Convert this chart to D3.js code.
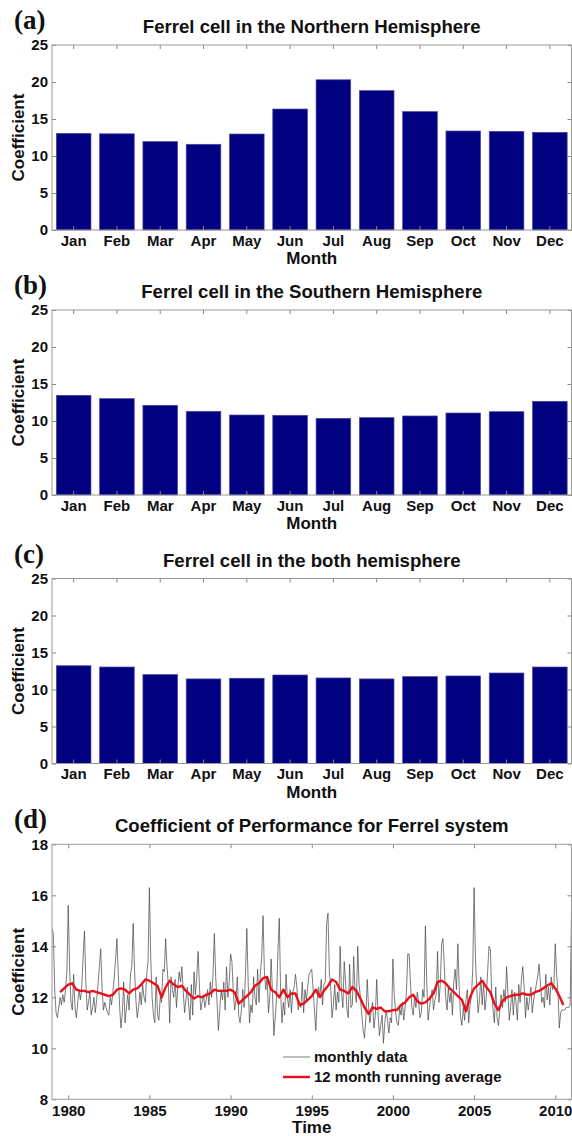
<!DOCTYPE html>
<html>
<head>
<meta charset="utf-8">
<script src="https://cdn.jsdelivr.net/npm/d3@7"></script>
<style>
  body { margin: 0; background: #fff; }
  text { font-family: "Liberation Sans", Arial, sans-serif; font-weight: bold; fill: #111; }
  .plabel { font-family: "Liberation Serif", "Times New Roman", serif; font-size: 27px; }
  .title { font-size: 18.6px; }
  .alabel { font-size: 17px; }
  .tick text { font-size: 15px; font-family: "Liberation Sans", Arial, sans-serif; font-weight: bold; fill: #111; }
  .domain { display: none; }
  .tick line { stroke: #888; }
</style>
</head>
<body>
<div id="chart"></div>
<script>
var months = ["Jan","Feb","Mar","Apr","May","Jun","Jul","Aug","Sep","Oct","Nov","Dec"];
var northValues = [13.06, 13.0, 11.95, 11.58, 12.97, 16.35, 20.3, 18.83, 16.0, 13.38, 13.33, 13.2];
var southValues = [13.47, 13.02, 12.12, 11.31, 10.81, 10.77, 10.36, 10.45, 10.68, 11.08, 11.26, 12.66];
var bothValues  = [13.21, 13.04, 12.01, 11.43, 11.52, 11.96, 11.56, 11.43, 11.74, 11.83, 12.23, 13.04];
var barTicks = [0, 5, 10, 15, 20, 25];

// monthly data, Jan 1979 .. Jan 2011 (one row per year)
var monthlyCoef = [
  14.7, 14.5, 12.3, 11.4, 11.2, 11.6, 12.0, 11.7, 12.1, 11.8, 12.3, 13.0,
  15.6, 13.2, 11.8, 11.5, 12.9, 11.6, 11.2, 11.8, 12.3, 11.9, 12.4, 13.6,
  14.6, 12.6, 11.5, 11.8, 12.2, 11.3, 11.6, 12.0, 11.4, 11.9, 12.5, 13.2,
  13.9, 12.4, 11.5, 11.8, 11.6, 11.4, 11.3, 12.0, 11.7, 12.2, 12.8, 13.5,
  14.3, 12.9, 11.6, 10.8, 11.4, 12.6, 11.0, 11.6, 12.1, 11.5, 12.9, 13.2,
  14.9, 13.1, 11.9, 11.2, 11.6, 12.2, 11.7, 12.5, 12.0, 11.8, 12.9, 13.4,
  16.3, 13.5, 12.0, 11.3, 11.0, 12.8, 11.3, 11.1, 12.0, 11.8, 13.1, 13.0,
  14.3, 13.2, 12.5, 11.0, 12.8, 12.3, 12.0, 12.7, 11.6, 12.4, 13.0, 12.6,
  13.2, 12.2, 11.4, 11.9, 12.4, 11.7, 11.1, 12.5, 11.3, 13.0, 12.1, 12.8,
  13.8, 12.4, 11.5, 11.8, 12.1, 11.6, 11.9, 12.3, 11.7, 12.6, 12.0, 12.9,
  14.5, 12.8, 11.8, 10.7, 11.5, 12.3, 11.9, 12.6, 11.5, 13.2, 12.0, 12.6,
  13.7, 13.4, 12.2, 11.5, 11.9, 12.8, 11.3, 11.0, 11.5, 12.3, 11.6, 12.9,
  14.7, 12.6, 11.0, 11.7, 11.4, 12.8, 12.0, 11.7, 13.1, 11.8, 12.9, 13.6,
  15.2, 13.0, 12.3, 12.8, 11.4, 12.0, 13.5, 12.1, 10.5, 11.2, 12.0, 13.8,
  15.1, 12.2, 11.0, 11.8, 11.3, 12.9, 12.0, 11.6, 12.3, 11.4, 12.2, 12.4,
  12.9, 12.4, 11.5, 11.8, 11.6, 12.6, 11.4, 12.3, 11.9, 12.4, 12.9, 13.0,
  13.1, 12.3, 11.5, 10.7, 11.9, 12.4, 12.0, 12.7, 11.7, 12.5, 12.6, 14.9,
  15.3, 13.0, 12.4, 11.2, 11.7, 12.5, 11.5, 12.2, 11.8, 14.0, 12.2, 11.6,
  13.4, 12.6, 11.5, 11.2, 13.3, 11.6, 11.7, 13.6, 12.2, 11.8, 14.0, 12.5,
  12.0, 11.3, 10.7, 10.4, 11.2, 12.7, 11.6, 11.0, 11.5, 11.8, 10.8, 11.3,
  12.7, 11.4, 10.5, 10.9, 11.3, 10.2, 11.0, 11.5, 11.1, 10.6, 11.2, 11.0,
  13.5, 12.1, 11.4, 11.0, 10.9, 11.6, 11.3, 11.8, 11.1, 11.6, 12.2, 13.7,
  13.7, 12.5, 11.6, 11.3, 12.0, 11.6, 12.2, 11.8, 11.2, 11.4, 12.3, 12.0,
  14.8, 12.6, 11.1, 11.6, 12.0, 12.3, 11.5, 11.9, 12.1, 13.8, 11.8, 12.5,
  14.1, 14.3, 13.2, 12.0, 11.5, 12.4, 11.8, 12.2, 11.3, 12.6, 13.1, 12.3,
  14.1, 12.4, 11.2, 10.9, 11.6, 11.1, 11.9, 12.3, 11.0, 11.7, 12.0, 13.1,
  16.3, 13.5, 12.3, 11.4, 11.9, 12.8, 11.7, 12.6, 11.5, 12.0, 13.0, 14.0,
  13.9, 12.2, 11.5, 11.0, 12.4, 11.2, 10.9, 11.5, 12.1, 11.6, 12.3, 11.8,
  13.2, 12.2, 11.1, 11.6, 12.3, 11.3, 12.2, 11.8, 11.1, 12.5, 11.8, 12.7,
  13.2, 12.4, 11.2, 12.0, 11.5, 11.9, 12.4, 11.4, 11.9, 12.2, 12.5, 12.8,
  13.3, 12.6, 11.8, 12.0, 11.6, 12.9, 11.9, 12.4, 11.7, 12.8, 12.3, 12.5,
  14.1, 12.9, 12.2, 10.8, 11.4, 11.5, 11.5, 11.5, 11.6, 11.6, 11.6, 11.7,
  15.4
];
var monthlyStart = 1979;

// 12 month running average, read every quarter from mid 1979 to mid 2010
var runningAvg = [
  12.2, 12.35,
  12.5, 12.55, 12.3, 12.25,
  12.25, 12.2, 12.25, 12.2,
  12.15, 12.1, 12.05, 12.1,
  12.3, 12.35, 12.3, 12.15,
  12.3, 12.35, 12.5, 12.7,
  12.65, 12.55, 12.45, 12.0,
  12.4, 12.65, 12.5, 12.4,
  12.45, 12.25, 12.1, 11.95,
  12.05, 12.0, 12.1, 12.15,
  12.3, 12.25, 12.25, 12.25,
  12.3, 12.2, 11.75, 11.9,
  12.05, 12.2, 12.45, 12.55,
  12.75, 12.8, 12.3, 12.2,
  12.0, 12.3, 12.0, 12.15,
  12.15, 11.7, 11.75, 11.9,
  12.05, 12.3, 12.0, 12.25,
  12.45, 12.7, 12.6, 12.3,
  12.25, 12.15, 12.4, 12.25,
  11.95, 11.6, 11.35, 11.6,
  11.55, 11.6, 11.45, 11.45,
  11.5, 11.5, 11.7, 11.8,
  12.0, 12.1, 11.85, 11.75,
  11.8, 11.95, 12.15, 12.6,
  12.65, 12.55, 12.35, 12.2,
  12.05, 11.9, 11.45, 12.0,
  12.35, 12.5, 12.65, 12.4,
  12.2, 11.75, 11.5, 11.85,
  12.0, 12.05, 12.1, 12.1,
  12.15, 12.1, 12.1, 12.2,
  12.25, 12.35, 12.45, 12.55,
  12.35, 12.05, 11.7
];
var avgStart = 1979.5;

var yearTicks = [1980, 1985, 1990, 1995, 2000, 2005, 2010];
var timeTicks = [8, 10, 12, 14, 16, 18];

var W = 572, H = 1136;
var left = 52, right = 571.5;
var tick = 4;

var svg = d3.select("#chart").append("svg")
    .attr("width", W)
    .attr("height", H);

svg.append("rect").attr("width", W).attr("height", H).attr("fill", "#fff");

function frame(g, w, h) {
  g.append("rect")
    .attr("x", 0).attr("y", 0)
    .attr("width", w).attr("height", h)
    .attr("fill", "none")
    .attr("stroke", "#999")
    .attr("stroke-width", 1);
}

function labels(g, w, h, letter, title, xlab) {
  g.append("text").attr("class", "plabel")
    .attr("x", 14 - left).attr("y", -16)
    .text(letter);
  g.append("text").attr("class", "title")
    .attr("x", w / 2).attr("y", -12)
    .attr("text-anchor", "middle")
    .text(title);
  g.append("text").attr("class", "alabel")
    .attr("transform", "translate(" + (24 - left) + "," + (h / 2) + ")rotate(-90)")
    .attr("text-anchor", "middle")
    .text("Coefficient");
  g.append("text").attr("class", "alabel")
    .attr("x", w / 2).attr("y", h + 34)
    .attr("text-anchor", "middle")
    .text(xlab);
}

function barPanel(top, values, letter, title) {
  var w = right - left, h = 185;
  var g = svg.append("g").attr("transform", "translate(" + left + "," + top + ")");

  var x = d3.scaleBand().domain(months).range([0, w])
      .paddingInner(0.2).paddingOuter(0.1);
  var y = d3.scaleLinear().domain([0, 25]).range([h, 0]);

  g.selectAll(".bar")
    .data(values)
    .enter()
    .append("rect")
    .attr("class", "bar")
    .attr("x", function(d, i) { return x(months[i]); })
    .attr("y", function(d) { return y(d); })
    .attr("width", x.bandwidth())
    .attr("height", function(d) { return h - y(d); })
    .attr("fill", "#000080")
    .attr("stroke", "#4c4c9c")
    .attr("stroke-width", 0.7);

  g.append("g").attr("transform", "translate(0," + h + ")")
    .call(d3.axisBottom(x).tickSize(-tick).tickPadding(5));
  g.append("g")
    .call(d3.axisTop(x).tickSize(-tick).tickFormat(""));
  g.append("g")
    .call(d3.axisLeft(y).tickValues(barTicks).tickSize(-tick).tickPadding(4));
  g.append("g").attr("transform", "translate(" + w + ",0)")
    .call(d3.axisRight(y).tickValues(barTicks).tickSize(-tick).tickFormat(""));

  frame(g, w, h);
  labels(g, w, h, letter, title, "Month");
}

barPanel(45, northValues, "(a)", "Ferrel cell in the Northern Hemisphere");
barPanel(310, southValues, "(b)", "Ferrel cell in the Southern Hemisphere");
barPanel(578.5, bothValues, "(c)", "Ferrel cell in the both hemisphere");

// (d) time series
(function() {
  var top = 844.3, w = right - left, h = 255;
  var g = svg.append("g").attr("transform", "translate(" + left + "," + top + ")");

  var x = d3.scaleLinear().domain([1979, 2011]).range([0, w]);
  var y = d3.scaleLinear().domain([8, 18]).range([h, 0]);

  g.append("clipPath").attr("id", "clipd")
    .append("rect").attr("width", w).attr("height", h);

  var lineM = d3.line()
      .x(function(d, i) { return x(monthlyStart + i / 12); })
      .y(function(d) { return y(d); });
  var lineA = d3.line()
      .x(function(d, i) { return x(avgStart + i / 4); })
      .y(function(d) { return y(d); });

  var plot = g.append("g").attr("clip-path", "url(#clipd)");
  plot.append("path")
    .datum(monthlyCoef)
    .attr("d", lineM)
    .attr("fill", "none")
    .attr("stroke", "#444")
    .attr("stroke-width", 0.7);
  plot.append("path")
    .datum(runningAvg)
    .attr("d", lineA)
    .attr("fill", "none")
    .attr("stroke", "#e8101a")
    .attr("stroke-width", 2.4)
    .attr("stroke-linejoin", "round");

  g.append("g").attr("transform", "translate(0," + h + ")")
    .call(d3.axisBottom(x).tickValues(yearTicks).tickFormat(d3.format("d")).tickSize(-tick).tickPadding(6));
  g.append("g")
    .call(d3.axisTop(x).tickValues(yearTicks).tickSize(-tick).tickFormat(""));
  g.append("g")
    .call(d3.axisLeft(y).tickValues(timeTicks).tickSize(-tick).tickPadding(4));
  g.append("g").attr("transform", "translate(" + w + ",0)")
    .call(d3.axisRight(y).tickValues(timeTicks).tickSize(-tick).tickFormat(""));

  frame(g, w, h);
  labels(g, w, h, "(d)", "Coefficient of Performance for Ferrel system", "Time");

  // legend
  var lg = g.append("g").attr("transform", "translate(" + (283 - left) + "," + (1057 - top) + ")");
  lg.append("line").attr("x1", 0).attr("x2", 27).attr("y1", 0).attr("y2", 0)
    .attr("stroke", "#444").attr("stroke-width", 0.7);
  lg.append("text").attr("x", 31).attr("y", 5).style("font-size", "15px").text("monthly data");
  lg.append("line").attr("x1", 0).attr("x2", 27).attr("y1", 20).attr("y2", 20)
    .attr("stroke", "#e8101a").attr("stroke-width", 2.4);
  lg.append("text").attr("x", 31).attr("y", 25).style("font-size", "15px").text("12 month running average");
})();
</script>
</body>
</html>
